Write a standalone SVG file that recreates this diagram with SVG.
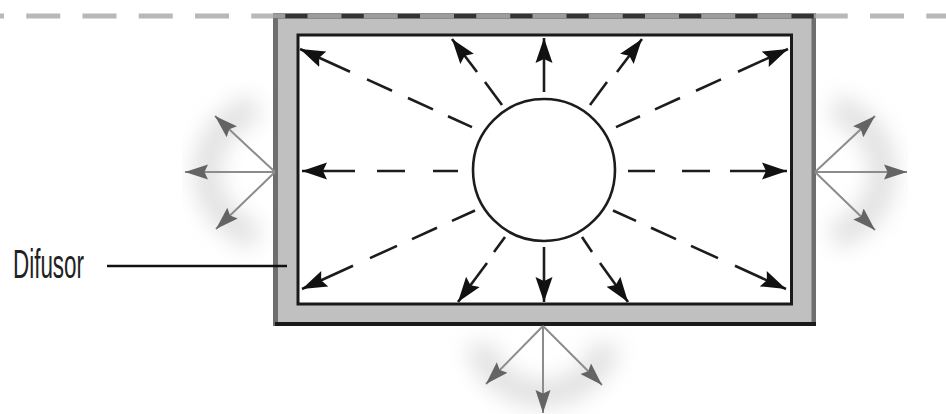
<svg xmlns="http://www.w3.org/2000/svg" width="946" height="414" viewBox="0 0 946 414">
<style>
.ray{stroke:#1c1c1c;stroke-width:2.6;fill:none;stroke-linecap:butt}
.arr{stroke:#1c1c1c;stroke-width:2.6;fill:none;marker-end:url(#ah)}
.sc{stroke:#8c8c8c;stroke-width:2;fill:none;marker-end:url(#ag)}
.glow{stroke:#8a8a8a;stroke-width:26;fill:none;opacity:0.26;filter:url(#blur)}
</style>
<defs>
<marker id="ah" viewBox="0 -10 26 20" refX="25" refY="0" markerWidth="26" markerHeight="20" markerUnits="userSpaceOnUse" orient="auto"><path d="M25,0 L0,-8.5 L4,0 L0,8.5 Z" fill="#111111"/></marker>
<marker id="ag" viewBox="0 -9 24 18" refX="23" refY="0" markerWidth="24" markerHeight="18" markerUnits="userSpaceOnUse" orient="auto"><path d="M23,0 L0,-7.5 L3.5,0 L0,7.5 Z" fill="#646464"/></marker>
<filter id="blur" x="-50%" y="-50%" width="200%" height="200%"><feGaussianBlur stdDeviation="11"/></filter>
</defs>
<rect width="946" height="414" fill="#ffffff"/>
<line x1="0" y1="16" x2="946" y2="16" stroke="#b8b8b8" stroke-width="5" stroke-dasharray="34 22.25" stroke-dashoffset="30"/>
<g id="glows">
<path class="glow" d="M257,108 A66,66 0 0 0 257,236"/>
<path class="glow" d="M833,108 A66,66 0 0 1 833,236"/>
<path class="glow" d="M479,344 A66,66 0 0 0 607,344"/>
</g>
<g id="box">
<rect x="273" y="13.5" width="543" height="312.5" fill="#c0c0c0"/>
<rect x="273" y="18" width="5" height="308" fill="#6e6e6e"/>
<rect x="811.5" y="18" width="4.5" height="308" fill="#6e6e6e"/>
<rect x="275" y="322" width="541" height="4" fill="#1a1a1a"/>
<rect x="273" y="13.5" width="543" height="5" fill="#333333"/>
<line x1="273" y1="16" x2="816" y2="16" stroke="#9c9c9c" stroke-width="5" stroke-dasharray="34 22.25" stroke-dashoffset="21.75"/>
<rect x="298" y="35" width="493.5" height="269" fill="#ffffff" stroke="#1a1a1a" stroke-width="3"/>
</g>
<g id="source">
<circle cx="544" cy="170" r="71" fill="#ffffff" stroke="#1c1c1c" stroke-width="2.6"/>
</g>
<g id="connectors">
<g id="rays">
<path class="ray" d="M458,171 H433 M405,171 H377"/>
<path class="arr" d="M355,171 H302"/>
<path class="ray" d="M628,171 H655 M682,171 H710"/>
<path class="arr" d="M730,171 H787"/>
<path class="arr" d="M544,92 V38"/>
<path class="arr" d="M544,247 V302"/>
<path class="ray" d="M472,127.1 L448,116.2 M433,109.4 L408,98 M392,90.8 L367,79.4"/>
<path class="arr" d="M350,71.7 L300,49"/>
<path class="ray" d="M616,127.1 L640,116.2 M655,109.4 L680,98 M696,90.8 L721,79.4"/>
<path class="arr" d="M738,71.7 L788,49"/>
<path class="ray" d="M475,210.5 L452,220.9 M437,227.7 L412,239.1 M397,245.9 L370,258.1"/>
<path class="arr" d="M353,265.8 L302,289"/>
<path class="ray" d="M613,210.5 L636,220.9 M651,227.7 L676,239.1 M691,245.9 L718,258.1"/>
<path class="arr" d="M735,265.8 L786,289"/>
<path class="ray" d="M502,105 L485,82"/>
<path class="arr" d="M477,72 L452,39"/>
<path class="ray" d="M590,105 L607,82"/>
<path class="arr" d="M617,72 L642,39"/>
<path class="ray" d="M505,237 L494,252"/>
<path class="arr" d="M487,263 L458,302"/>
<path class="ray" d="M582,237 L592,252"/>
<path class="arr" d="M600,263 L628,302"/>
</g>
<g id="scatter">
<path class="sc" d="M275,172 H185"/>
<path class="sc" d="M275,172 L215,116"/>
<path class="sc" d="M275,172 L216,229"/>
<path class="sc" d="M815,172 H907"/>
<path class="sc" d="M815,172 L875,116"/>
<path class="sc" d="M815,172 L875,230"/>
<path class="sc" d="M543,326 V413"/>
<path class="sc" d="M543,326 L486,384"/>
<path class="sc" d="M543,326 L602,385"/>
</g>
<line id="leader" x1="107" y1="266" x2="287" y2="266" stroke="#111111" stroke-width="2.5"/>
</g>
<g id="label">
<text x="13" y="278" font-family="'Liberation Sans', Arial, sans-serif" font-size="41" fill="#222222" textLength="71" lengthAdjust="spacingAndGlyphs">Difusor</text>
</g>
</svg>
